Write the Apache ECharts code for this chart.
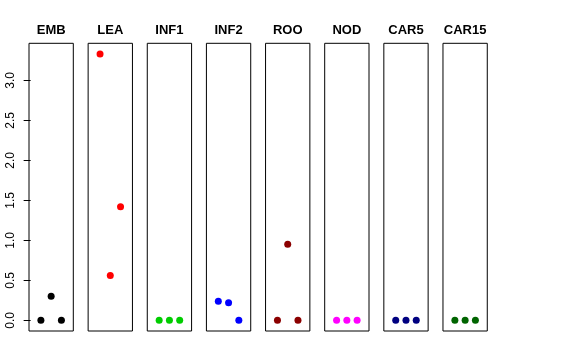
<!DOCTYPE html>
<html>
<head>
<meta charset="utf-8">
<script src="https://cdn.jsdelivr.net/npm/echarts@6/dist/echarts.min.js"></script>
<style>html,body{margin:0;padding:0;background:#fff;}#c{width:576px;height:360px;}</style>
</head>
<body>
<div id="c"></div>
<script>
var panelNames = ["EMB", "LEA", "INF1", "INF2", "ROO", "NOD", "CAR5", "CAR15"];
var panelColors = ["#000000", "#FF0000", "#00CD00", "#0000FF", "#8B0000", "#FF00FF", "#000080", "#006400"];
var xPositions = [1, 2, 3];
var embValues = [0, 0.30, 0];
var leaValues = [3.33, 0.56, 1.42];
var inf1Values = [0, 0, 0];
var inf2Values = [0.24, 0.22, 0];
var rooValues = [0, 0.95, 0];
var nodValues = [0, 0, 0];
var car5Values = [0, 0, 0];
var car15Values = [0, 0, 0];
var yTickValues = [0, 0.5, 1.0, 1.5, 2.0, 2.5, 3.0];
var allValues = [embValues, leaValues, inf1Values, inf2Values, rooValues, nodValues, car5Values, car15Values];

var chart = echarts.init(document.getElementById('c'), null, {renderer: 'canvas'});
var FONT = "'Liberation Sans', Arial, Helvetica, sans-serif";
var gLeft0 = 29, gStep = 59.14, gWidth = 44.3, gTop = 43.3, gHeight = 287.7;
var yMin = -0.133, yMax = 3.463;

var grids = [], xAxes = [], yAxes = [], series = [], titles = [];
for (var i = 0; i < panelNames.length; i++) {
  var left = gLeft0 + i * gStep;
  grids.push({left: left, top: gTop, width: gWidth, height: gHeight, show: true,
    borderColor: '#000', borderWidth: 1, backgroundColor: 'transparent', containLabel: false});
  xAxes.push({type: 'value', gridIndex: i, min: -0.16, max: 4.16, show: false});
  yAxes.push({type: 'value', gridIndex: i, min: yMin, max: yMax, show: i === 0,
    splitLine: {show: false}, axisLine: {show: false},
    axisTick: {show: i === 0, length: 7, lineStyle: {color: '#000'}, customValues: yTickValues},
    axisLabel: {show: i === 0, rotate: 90, margin: 12, color: '#000', fontSize: 12, fontFamily: FONT,
      align: 'center', verticalAlign: 'bottom',
      customValues: yTickValues,
      formatter: function (v) { return v.toFixed(1); }}
  });
  var data = [];
  for (var j = 0; j < xPositions.length; j++) data.push([xPositions[j], allValues[i][j]]);
  series.push({type: 'scatter', xAxisIndex: i, yAxisIndex: i, data: data,
    symbol: 'circle', symbolSize: 7, itemStyle: {color: panelColors[i], opacity: 1}, silent: true, animation: false});
  titles.push({text: panelNames[i], left: left + gWidth / 2, top: 24, textAlign: 'center', padding: 0,
    textStyle: {fontSize: 13, fontWeight: 'bold', color: '#000', fontFamily: FONT}});
}

chart.setOption({
  animation: false,
  backgroundColor: '#fff',
  title: titles,
  grid: grids,
  xAxis: xAxes,
  yAxis: yAxes,
  series: series
});
</script>
</body>
</html>
